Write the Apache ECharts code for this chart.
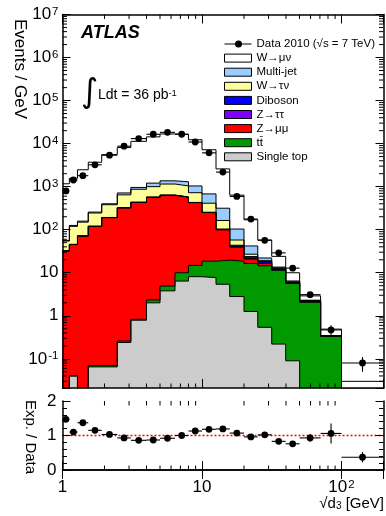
<!DOCTYPE html>
<html><head><meta charset="utf-8">
<script src="https://cdn.jsdelivr.net/npm/echarts@6/dist/echarts.min.js"></script>
<style>html,body{margin:0;padding:0;background:#fff}#c{width:386px;height:516px}</style>
</head><body><div id="c"></div>
<script>
// ---- data ----
const binEdges = [1, 1.12, 1.28, 1.53, 1.91, 2.47, 3.09, 4.0, 5.0, 6.4, 8.0, 10, 12.6, 15.8, 20, 25.1, 31.6, 39.8, 50.1, 70.8, 100, 200];
const dataValues = [795, 1430, 1800, 3220, 5390, 8710, 13100, 16500, 18300, 16500, 10900, 6100, 2180, 594, 177, 56.6, 29.0, 12.8, 3.1, 0.47, 0.080];
const dataErrors = [6, 9, 10, 13, 17, 21, 25, 26, 27, 25, 20, 15, 9, 4.3, 2.4, 1.3, 0.85, 0.55, 0.35, 0.13, 0.03];
const singleTop = [0, 0.04, 0, 0.065, 0.065, 0.24, 0.79, 2.0, 3.8, 6.4, 8.1, 7.7, 5.4, 2.8, 1.26, 0.54, 0.22, 0.09, 0, 0, 0];
const ttbar = [0, 0, 0, 0.005, 0.005, 0.02, 0.04, 0.33, 1.1, 3.6, 6.7, 10.9, 14.2, 15.8, 15.2, 14.0, 11.3, 5.6, 2.1, 0.34, 0];
const zmumu = [32, 45, 71, 119, 190, 320, 429, 563, 625, 560, 410, 231, 80, 21, 4.5, 2, 0.2, 0.05, 0, 0, 0];
const ztautau = [0.3, 0.5, 0.8, 1.2, 2, 3, 4, 5, 5, 4.5, 3.5, 2, 1, 0.5, 0.2, 0.1, 0, 0, 0, 0, 0];
const diboson = [0.1, 0.1, 0.2, 0.3, 0.4, 0.6, 0.8, 1.1, 1.4, 1.8, 2.2, 2.7, 3.2, 3.5, 2.6, 1.8, 1.0, 0.3, 0.1, 0, 0];
const wtaunu = [22, 74, 78, 124, 188, 321, 435, 429, 514, 464, 294, 158, 60, 14, 3.2, 0.6, 0.2, 0.1, 0.05, 0, 0];
const multijet = [2, 6, 8, 12, 20, 70, 90, 210, 215, 260, 315, 267, 152, 46, 15, 3, 0.6, 0.3, 0.05, 0, 0];
const wmunu = [1110, 1440, 2310, 3440, 5150, 7390, 10340, 13140, 15400, 15200, 11260, 6520, 2270, 532, 128, 35.7, 10.5, 3.55, 0.6, 0.15, 0.03];
const ratioValues = [1.47, 1.10, 1.37, 1.15, 1.03, 0.93, 0.86, 0.87, 0.92, 1.00, 1.13, 1.18, 1.19, 1.07, 0.96, 1.02, 0.83, 0.76, 0.93, 1.06, 0.37];
const ratioErrors = [0.07, 0.03, 0.03, 0.02, 0.02, 0.02, 0.01, 0.01, 0.01, 0.01, 0.01, 0.02, 0.02, 0.02, 0.03, 0.03, 0.04, 0.05, 0.11, 0.29, 0.15];
const legendNames = ['Data 2010 (√s = 7 TeV)', 'W→μν', 'Multi-jet', 'W→τν', 'Diboson', 'Z→ττ', 'Z→μμ', 'tt\u0304', 'Single top'];
const xMajorLabels = {1: '1', 10: '10', 100: '10{sup|2}'};
const minorMultipliers = [2, 3, 4, 5, 6, 7, 8, 9];

// stack order bottom -> top
const components = [
  {name: 'Single top', vals: singleTop, color: '#cccccc'},
  {name: 'tt\u0304', vals: ttbar, color: '#009900'},
  {name: 'Z→μμ', vals: zmumu, color: '#ff0000'},
  {name: 'Z→ττ', vals: ztautau, color: '#7f00ff'},
  {name: 'Diboson', vals: diboson, color: '#0000ff'},
  {name: 'W→τν', vals: wtaunu, color: '#ffff99'},
  {name: 'Multi-jet', vals: multijet, color: '#99ccff'},
  {name: 'W→μν', vals: wmunu, color: '#ffffff'}
];

const FONT = '"Liberation Sans", Arial, Helvetica, sans-serif';
const TINY = 1e-6;

// cumulative sums for overlay-stacking
let run = binEdges.slice(1).map(() => 0);
components.forEach(c => { run = run.map((r, i) => r + c.vals[i]); c.cum = run.slice(); });

function stepData(vals) {
  const d = vals.map((v, i) => [binEdges[i], Math.max(v, TINY)]);
  const last = binEdges[binEdges.length - 1];
  d.push([last, Math.max(vals[vals.length - 1], TINY)]);
  d.push([last, TINY]);
  return d;
}

const series = [];
components.slice().reverse().forEach(c => {
  series.push({
    type: 'line', name: c.name, xAxisIndex: 0, yAxisIndex: 0,
    step: 'end', symbol: 'none', showSymbol: false, silent: true,
    data: stepData(c.cum),
    lineStyle: {color: '#000', width: 1},
    itemStyle: {color: c.color},
    areaStyle: {color: c.color, opacity: 1, origin: 'start'},
    emphasis: {disabled: true}, z: 2
  });
});

function errRender(params, api) {
  const lo = api.value(0), hi = api.value(1), v = api.value(2), e = api.value(3);
  const xc = Math.sqrt(lo * hi);
  const pL = api.coord([lo, v]), pR = api.coord([hi, v]), pC = api.coord([xc, v]);
  const pT = api.coord([xc, v + e]), pB = api.coord([xc, Math.max(v - e, TINY)]);
  return {type: 'group', children: [
    {type: 'line', shape: {x1: pL[0], y1: pL[1], x2: pR[0], y2: pR[1]}, style: {stroke: '#000', lineWidth: 1.1}},
    {type: 'line', shape: {x1: pC[0], y1: pT[1], x2: pC[0], y2: pB[1]}, style: {stroke: '#000', lineWidth: 1.1}},
    {type: 'circle', shape: {cx: pC[0], cy: pC[1], r: 3.4}, style: {fill: '#000'}}
  ]};
}

series.push({
  type: 'custom', name: legendNames[0], xAxisIndex: 0, yAxisIndex: 0, z: 6, silent: true,
  itemStyle: {color: '#000'},
  data: dataValues.map((v, i) => [binEdges[i], binEdges[i + 1], v, dataErrors[i]]),
  encode: {x: [0, 1], y: 2},
  renderItem: errRender
});
series.push({
  type: 'custom', name: 'ratio', xAxisIndex: 2, yAxisIndex: 2, z: 6, silent: true,
  itemStyle: {color: '#000'},
  data: ratioValues.map((v, i) => [binEdges[i], binEdges[i + 1], v, ratioErrors[i]]),
  encode: {x: [0, 1], y: 2},
  renderItem: errRender,
  markLine: {silent: true, symbol: 'none', label: {show: false}, animation: false,
    lineStyle: {color: '#ff0000', type: [2, 2], width: 1.3}, data: [{yAxis: 1}]}
});

// minor ticks (log axes)
const xMinor = [];
[1, 10].forEach(d => minorMultipliers.forEach(m => xMinor.push(m * d)));
const yMinor = [];
[0.01, 0.1, 1, 10, 100, 1e3, 1e4, 1e5, 1e6].forEach(d => minorMultipliers.forEach(m => { const v = m * d; if (v > 0.021 && v < 1e7) yMinor.push(v); }));

function xTickSeries(xi, yi, yRef) {
  return {type: 'custom', xAxisIndex: xi, yAxisIndex: yi, silent: true, z: 11,
    data: xMinor.map(v => [v, yRef]),
    renderItem: (params, api) => {
      const cs = params.coordSys; const p = api.coord([api.value(0), api.value(1)]); const L = 4.5;
      return {type: 'group', children: [
        {type: 'line', shape: {x1: p[0], y1: cs.y + cs.height, x2: p[0], y2: cs.y + cs.height - L}, style: {stroke: '#000', lineWidth: 1}},
        {type: 'line', shape: {x1: p[0], y1: cs.y, x2: p[0], y2: cs.y + L}, style: {stroke: '#000', lineWidth: 1}}
      ]};
    }};
}
series.push(xTickSeries(0, 0, 1));
series.push(xTickSeries(2, 2, 1));
series.push({type: 'custom', xAxisIndex: 0, yAxisIndex: 0, silent: true, z: 11,
  data: yMinor.map(v => [2, v]),
  renderItem: (params, api) => {
    const cs = params.coordSys; const p = api.coord([api.value(0), api.value(1)]); const L = 4.5;
    return {type: 'group', children: [
      {type: 'line', shape: {x1: cs.x, y1: p[1], x2: cs.x + L, y2: p[1]}, style: {stroke: '#000', lineWidth: 1}},
      {type: 'line', shape: {x1: cs.x + cs.width, y1: p[1], x2: cs.x + cs.width - L, y2: p[1]}, style: {stroke: '#000', lineWidth: 1}}
    ]};
  }});

const supRich = {sup: {fontSize: 11.5, fontFamily: FONT, color: '#000', verticalAlign: 'top', padding: [0, 0, 0, 1]}};
function yLogLabel(v) {
  const e = Math.round(Math.log10(v));
  if (Math.abs(v / Math.pow(10, e) - 1) > 1e-6) return '';
  if (e === 0) return '1';
  if (e === 1) return '10';
  return '10{sup|' + e + '}';
}
function xLogLabel(v) {
  const e = Math.round(Math.log10(v));
  if (Math.abs(v / Math.pow(10, e) - 1) > 1e-6) return '';
  return xMajorLabels[Math.pow(10, e)] || '';
}
const lineStyle = {color: '#000', width: 1.5};
function logX(grid, pos, showLabels) {
  return {type: 'log', logBase: 10, gridIndex: grid, position: pos, min: 1, max: 200, z: 10,
    axisLine: {show: true, lineStyle}, splitLine: {show: false},
    axisTick: {show: true, inside: true, length: 9, lineStyle: {color: '#000', width: 1}},
    axisLabel: {show: showLabels, margin: 9, fontSize: 17, fontFamily: FONT, color: '#000', formatter: xLogLabel, rich: supRich}};
}

const option = {
  animation: false,
  backgroundColor: '#fff',
  grid: [
    {left: 62.5, top: 14.5, width: 321, height: 373.5, outerBoundsMode: 'none', containLabel: false},
    {left: 62.5, top: 401, width: 321, height: 69, outerBoundsMode: 'none', containLabel: false}
  ],
  xAxis: [logX(0, 'bottom', false), logX(0, 'top', false), logX(1, 'bottom', true), logX(1, 'top', false)],
  yAxis: [
    {type: 'log', logBase: 10, gridIndex: 0, position: 'left', min: 0.021, max: 1e7, z: 10,
      axisLine: {show: true, lineStyle}, splitLine: {show: false},
      axisTick: {show: true, inside: true, length: 8, lineStyle: {color: '#000', width: 1}},
      axisLabel: {margin: 4, fontSize: 17, fontFamily: FONT, color: '#000', formatter: yLogLabel, rich: supRich}},
    {type: 'log', logBase: 10, gridIndex: 0, position: 'right', min: 0.021, max: 1e7, z: 10,
      axisLine: {show: true, lineStyle}, splitLine: {show: false},
      axisTick: {show: true, inside: true, length: 8, lineStyle: {color: '#000', width: 1}},
      axisLabel: {show: false}},
    {type: 'value', gridIndex: 1, position: 'left', min: 0, max: 2, interval: 1, z: 10,
      axisLine: {show: true, lineStyle}, splitLine: {show: false},
      axisTick: {show: true, inside: true, length: 8, lineStyle: {color: '#000', width: 1}},
      minorTick: {show: true, splitNumber: 5, length: 4.5, lineStyle: {color: '#000', width: 1}},
      axisLabel: {margin: 6, fontSize: 17, fontFamily: FONT, color: '#000'}},
    {type: 'value', gridIndex: 1, position: 'right', min: 0, max: 2, interval: 1, z: 10,
      axisLine: {show: true, lineStyle}, splitLine: {show: false},
      axisTick: {show: true, inside: true, length: 8, lineStyle: {color: '#000', width: 1}},
      minorTick: {show: true, splitNumber: 5, length: 4.5, lineStyle: {color: '#000', width: 1}},
      axisLabel: {show: false}}
  ],
  legend: {
    orient: 'vertical', left: 224, top: 38, itemWidth: 27, itemHeight: 8, itemGap: 2.1,
    selectedMode: false, padding: 0,
    textStyle: {fontSize: 11.5, fontFamily: FONT, color: '#000', lineHeight: 12},
    data: [
      {name: legendNames[0], icon: 'path://M0,3.4L27,3.4L27,4.6L0,4.6Z M17.5,4A3.5,3.5,0,1,1,10.5,4A3.5,3.5,0,1,1,17.5,4Z', itemStyle: {color: '#000', borderWidth: 0}},
      ...components.slice().reverse().map(c => ({name: c.name, icon: 'rect', itemStyle: {color: c.color, borderColor: '#000', borderWidth: 1}}))
    ]
  },
  graphic: [
    {type: 'text', x: 20, y: 69, rotation: -Math.PI / 2, style: {text: 'Events / GeV', font: '17px ' + FONT, fill: '#000', textAlign: 'center', textVerticalAlign: 'middle'}},
    {type: 'text', x: 30, y: 437, rotation: -Math.PI / 2, style: {text: 'Exp. / Data', font: '15px ' + FONT, fill: '#000', textAlign: 'center', textVerticalAlign: 'middle'}},
    {type: 'text', x: 81, y: 33, style: {text: 'ATLAS', font: 'italic bold 18px ' + FONT, fill: '#000', textVerticalAlign: 'middle'}},
    {type: 'text', x: 81, y: 93, style: {text: '∫', font: '33px "DejaVu Sans"', fill: '#000', textVerticalAlign: 'middle'}},
    {type: 'text', x: 98, y: 95, style: {text: 'Ldt = 36 pb{sup|-1}', font: '14px ' + FONT, fill: '#000', textVerticalAlign: 'middle',
      rich: {sup: {fontSize: 9.5, fontFamily: FONT, fill: '#000', verticalAlign: 'top'}}}},
    {type: 'text', right: 2, top: 496, style: {text: '√d{sub|3} [GeV]', font: '15px ' + FONT, fill: '#000',
      rich: {sub: {fontSize: 10, fontFamily: FONT, fill: '#000', verticalAlign: 'bottom'}}}}
  ],
  series
};
const chart = echarts.init(document.getElementById('c'), null, {renderer: 'canvas'});
chart.setOption(option);
</script></body></html>
